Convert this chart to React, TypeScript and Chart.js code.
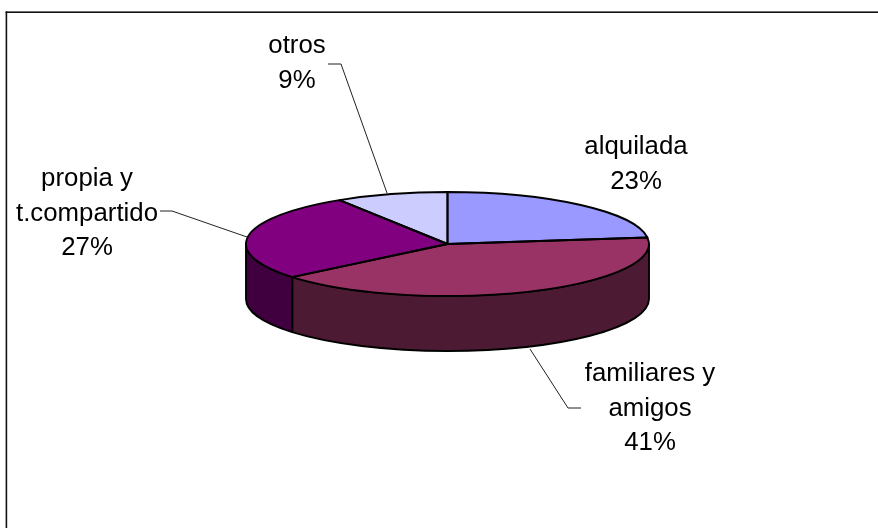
import React, { useEffect, useRef } from "react";
import { Chart, registerables } from "chart.js";

Chart.register(...registerables);

const categories = ["alquilada", "familiares y amigos", "propia y t.compartido", "otros"];
const values = [23, 41, 27, 9];
const labelLines = [["alquilada"], ["familiares y", "amigos"], ["propia y", "t.compartido"], ["otros"]];
const topColors = ["#9999FF", "#993366", "#800080", "#CCCCFF"];
const sideColors = ["#4D4D80", "#4D1A33", "#400040", "#666680"];
const labelCenters = [[636, 147], [650, 374], [87, 179], [297, 46]];
const leaders = [
  null,
  [[530, 349], [568, 408], [581, 408]],
  [[160, 211], [172, 211], [247, 237]],
  [[328, 64], [341, 64], [387, 193]],
];

const CX = 447.5, CY = 244, RX = 201.5, RY = 52, DEPTH = 55;
const LINE_H = 34.4;
const FONT = '25.8px "Liberation Sans", Arial, sans-serif';
const EDGE = 1.9;

const pie3d = {
  id: "pie3d",
  beforeDraw(chart: any) {
    const ctx = chart.ctx;
    ctx.save();
    ctx.fillStyle = "#ffffff";
    ctx.fillRect(0, 0, chart.width, chart.height);
    ctx.fillStyle = "#111111";
    ctx.fillRect(5.6, 11.4, chart.width, 1.6);
    ctx.fillRect(5.6, 11.4, 1.6, chart.height);
    ctx.restore();
  },
  beforeDatasetsDraw(chart: any) {
    const ctx = chart.ctx;
    const arcs = chart.getDatasetMeta(0).data;
    ctx.save();
    ctx.lineWidth = EDGE;
    ctx.strokeStyle = "#000";
    ctx.lineJoin = "round";
    arcs.forEach((arc: any, i: number) => {
      const a1 = Math.max(arc.startAngle, 0);
      const a2 = Math.min(arc.endAngle, Math.PI);
      if (a2 <= a1) return;
      ctx.beginPath();
      ctx.ellipse(CX, CY + DEPTH, RX, RY, 0, a1, a2);
      ctx.ellipse(CX, CY, RX, RY, 0, a2, a1, true);
      ctx.closePath();
      ctx.fillStyle = sideColors[i];
      ctx.fill();
      ctx.stroke();
    });
    ctx.restore();
    // squash the library's circular slices into the tilted ellipse
    const c = arcs[0];
    ctx.save();
    ctx.translate(CX, CY);
    ctx.scale(RX / c.outerRadius, RY / c.outerRadius);
    ctx.translate(-c.x, -c.y);
  },
  afterDatasetsDraw(chart: any) {
    const ctx = chart.ctx;
    ctx.restore();
    const arcs = chart.getDatasetMeta(0).data;
    ctx.save();
    ctx.lineWidth = EDGE;
    ctx.strokeStyle = "#000";
    ctx.lineJoin = "round";
    arcs.forEach((arc: any) => {
      ctx.beginPath();
      ctx.moveTo(CX, CY);
      ctx.ellipse(CX, CY, RX, RY, 0, arc.startAngle, arc.endAngle);
      ctx.closePath();
      ctx.stroke();
    });
    // leader lines
    ctx.lineWidth = 1;
    ctx.strokeStyle = "#222";
    leaders.forEach((pts) => {
      if (!pts) return;
      ctx.beginPath();
      pts.forEach((p, k) => (k ? ctx.lineTo(p[0], p[1]) : ctx.moveTo(p[0], p[1])));
      ctx.stroke();
    });
    // data labels
    ctx.fillStyle = "#000";
    ctx.font = FONT;
    ctx.textAlign = "center";
    ctx.textBaseline = "middle";
    labelLines.forEach((lines, i) => {
      const all = [...lines, values[i] + "%"];
      all.forEach((t, k) => {
        ctx.fillText(t, labelCenters[i][0], labelCenters[i][1] + k * LINE_H);
      });
    });
    ctx.restore();
  },
};

export default function App() {
  const ref = useRef<HTMLCanvasElement>(null);
  useEffect(() => {
    const chart = new Chart(ref.current as HTMLCanvasElement, {
      type: "pie",
      data: {
        labels: categories,
        datasets: [{ data: values, backgroundColor: topColors, borderWidth: 0 }],
      },
      options: {
        responsive: false,
        animation: false,
        layout: { padding: { left: 246, right: 229, top: 42, bottom: 82 } },
        plugins: { legend: { display: false }, tooltip: { enabled: false }, title: { display: false } },
      },
      plugins: [pie3d],
    } as any);
    return () => chart.destroy();
  }, []);
  return (
    <div style={{ position: "absolute", left: 0, top: 0, width: 878, height: 528 }}>
      <canvas ref={ref} width={878} height={528} style={{ display: "block" }} />
    </div>
  );
}
